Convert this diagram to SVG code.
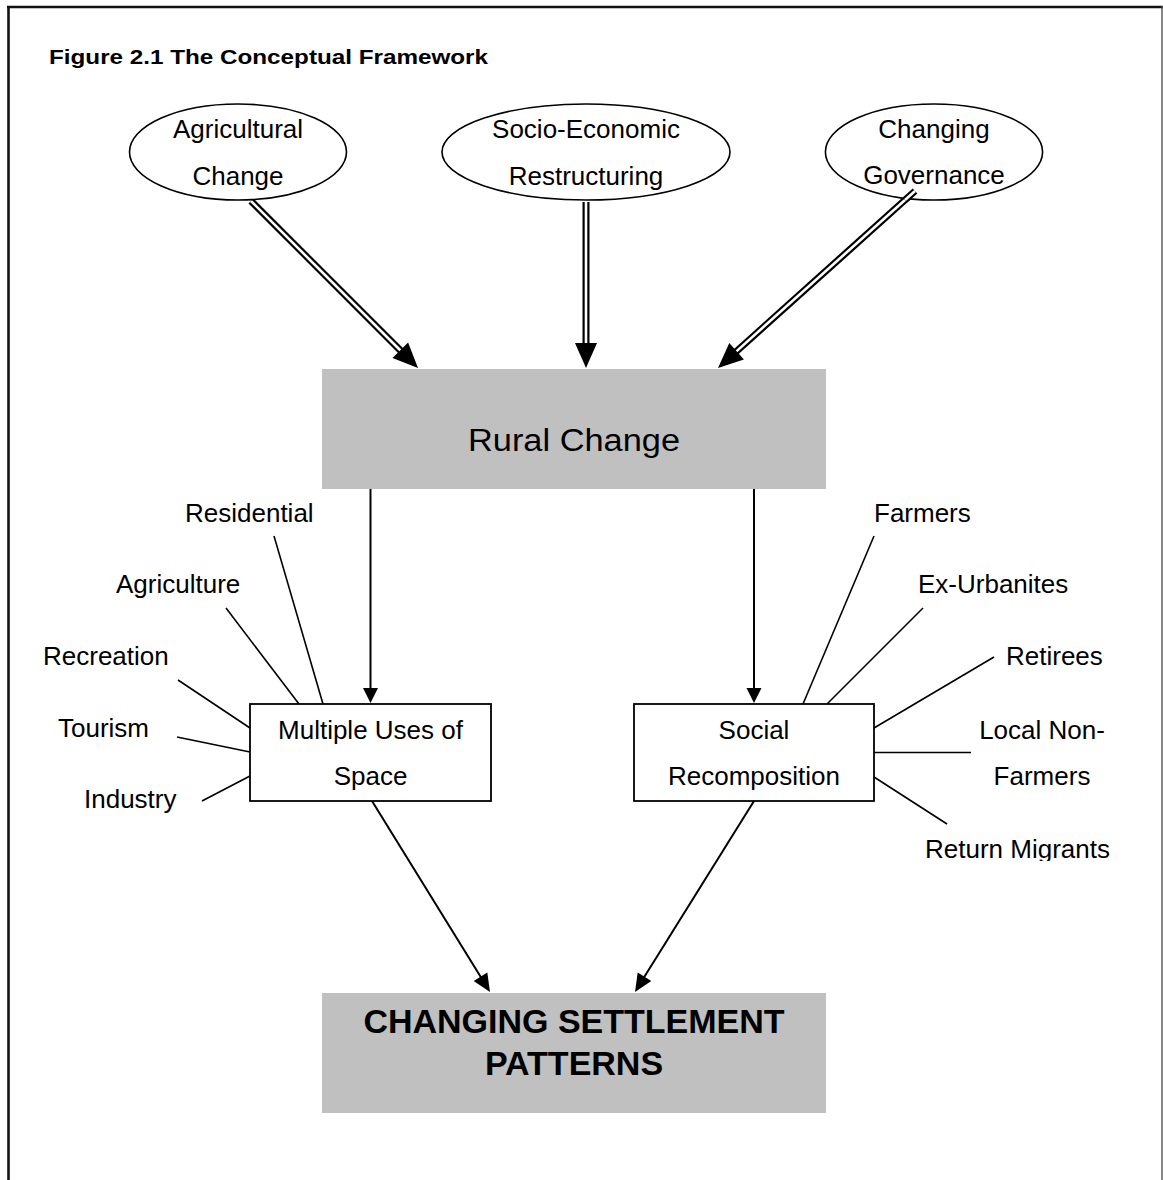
<svg xmlns="http://www.w3.org/2000/svg" width="1163" height="1180" viewBox="0 0 1163 1180">
<style>
text{font-family:"Liberation Sans",Arial,sans-serif;fill:#000}
.t{font-size:26px}
.c{text-anchor:middle}
.b{font-weight:bold}
.ell{fill:#fff;stroke:#000;stroke-width:1.6}
.box{fill:#fff;stroke:#000;stroke-width:1.8}
.gbox{fill:#c0c0c0;stroke:none}
.dbo{stroke:#000;stroke-width:7;fill:none}
.dbi{stroke:#fff;stroke-width:2.6;fill:none}
.ln{stroke:#000;stroke-width:2;fill:none}
.thin{stroke:#000;stroke-width:1.6;fill:none}
.head{fill:#000;stroke:none}
</style>
<defs>
<clipPath id="clipRM"><rect x="0" y="0" width="1163" height="861"/></clipPath>
</defs>
<rect x="0" y="0" width="1163" height="1180" fill="#fff"/>
<g id="frame">
<line x1="7" y1="7" x2="1163" y2="7" stroke="#111" stroke-width="2.4"/>
<line x1="8.5" y1="6" x2="8.5" y2="1180" stroke="#111" stroke-width="2.6"/>
<line x1="1162" y1="6" x2="1162" y2="1180" stroke="#555" stroke-width="1.4"/>
</g>
<g id="title"><text class="b" x="49" y="64" font-size="20" textLength="439" lengthAdjust="spacingAndGlyphs">Figure 2.1 The Conceptual Framework</text></g>

<g id="connectors">
<!-- double arrows -->
<line class="dbo" x1="251" y1="201" x2="404" y2="354"/>
<line class="dbi" x1="251" y1="201" x2="402" y2="352"/>
<polygon class="head" points="418,368 392.5,358.1 408.1,342.5"/>
<line class="dbo" x1="586" y1="202" x2="586" y2="347"/>
<line class="dbi" x1="586" y1="202" x2="586" y2="345"/>
<polygon class="head" points="586,368 575,343 597,343"/>
<line class="dbo" x1="915" y1="191" x2="733.5" y2="354"/>
<line class="dbi" x1="915" y1="191" x2="735" y2="352.6"/>
<polygon class="head" points="718,368 743.9,359.5 729.3,343.1"/>
<!-- single arrows -->
<line class="ln" x1="370.5" y1="488" x2="370.5" y2="690"/>
<polygon class="head" points="370.5,703 363,688 378,688"/>
<line class="ln" x1="754" y1="488" x2="754" y2="690"/>
<polygon class="head" points="754,703 746.5,688 761.5,688"/>
<line class="ln" x1="372" y1="801" x2="482" y2="979"/>
<polygon class="head" points="490,992 473.7,980.9 487.3,972.5"/>
<line class="ln" x1="754" y1="801" x2="643" y2="979"/>
<polygon class="head" points="635,992 651.3,980.9 637.7,972.5"/>
<!-- label spokes left -->
<line class="thin" x1="274" y1="536" x2="323" y2="704"/>
<line class="thin" x1="226" y1="608" x2="299" y2="704"/>
<line class="thin" x1="178" y1="680" x2="250" y2="728"/>
<line class="thin" x1="177" y1="737" x2="250" y2="752"/>
<line class="thin" x1="202" y1="801" x2="250" y2="776"/>
<!-- label spokes right -->
<line class="thin" x1="874" y1="536" x2="803" y2="704"/>
<line class="thin" x1="923" y1="608" x2="827" y2="704"/>
<line class="thin" x1="994" y1="657" x2="874" y2="728"/>
<line class="thin" x1="874" y1="752.5" x2="971" y2="752.5"/>
<line class="thin" x1="874" y1="777" x2="947" y2="824"/>
</g>

<g id="agri">
<ellipse class="ell" cx="238" cy="152" rx="108.5" ry="48"/>
<text class="t c" x="238" y="138">Agricultural</text>
<text class="t c" x="238" y="185">Change</text>
</g>
<g id="socio">
<ellipse class="ell" cx="586" cy="152" rx="144" ry="48"/>
<text class="t c" x="586" y="138">Socio-Economic</text>
<text class="t c" x="586" y="185">Restructuring</text>
</g>
<g id="gov">
<ellipse class="ell" cx="934" cy="152" rx="108.6" ry="48"/>
<text class="t c" x="934" y="138">Changing</text>
<text class="t c" x="934" y="184">Governance</text>
</g>
<g id="gov-arrow-start">
<line class="dbo" x1="915" y1="191" x2="905" y2="200"/>
<line class="dbi" x1="915" y1="191" x2="905" y2="200"/>
</g>

<g id="rural">
<rect class="gbox" x="322" y="369" width="504" height="120"/>
<text class="c" x="574" y="451" font-size="31" textLength="212" lengthAdjust="spacingAndGlyphs">Rural Change</text>
</g>

<g id="multiple">
<rect class="box" x="250" y="704" width="241" height="97"/>
<text class="t c" x="370.5" y="739">Multiple Uses of</text>
<text class="t c" x="370.5" y="785">Space</text>
</g>
<g id="social">
<rect class="box" x="634" y="704" width="240" height="97"/>
<text class="t c" x="754" y="739">Social</text>
<text class="t c" x="754" y="785">Recomposition</text>
</g>

<g id="uses-labels">
<text class="t" x="185" y="522">Residential</text>
<text class="t" x="116" y="593">Agriculture</text>
<text class="t" x="43" y="665">Recreation</text>
<text class="t" x="58" y="737">Tourism</text>
<text class="t" x="84" y="808">Industry</text>
</g>
<g id="social-labels">
<text class="t" x="874" y="522">Farmers</text>
<text class="t" x="918" y="593">Ex-Urbanites</text>
<text class="t" x="1006" y="665">Retirees</text>
<text class="t c" x="1042" y="739">Local Non-</text>
<text class="t c" x="1042" y="785">Farmers</text>
<text class="t" x="925" y="858" clip-path="url(#clipRM)">Return Migrants</text>
</g>

<g id="settlement">
<rect class="gbox" x="322" y="993" width="504" height="120"/>
<text class="b c" x="574" y="1033" font-size="34">CHANGING SETTLEMENT</text>
<text class="b c" x="574" y="1075" font-size="34">PATTERNS</text>
</g>
</svg>
